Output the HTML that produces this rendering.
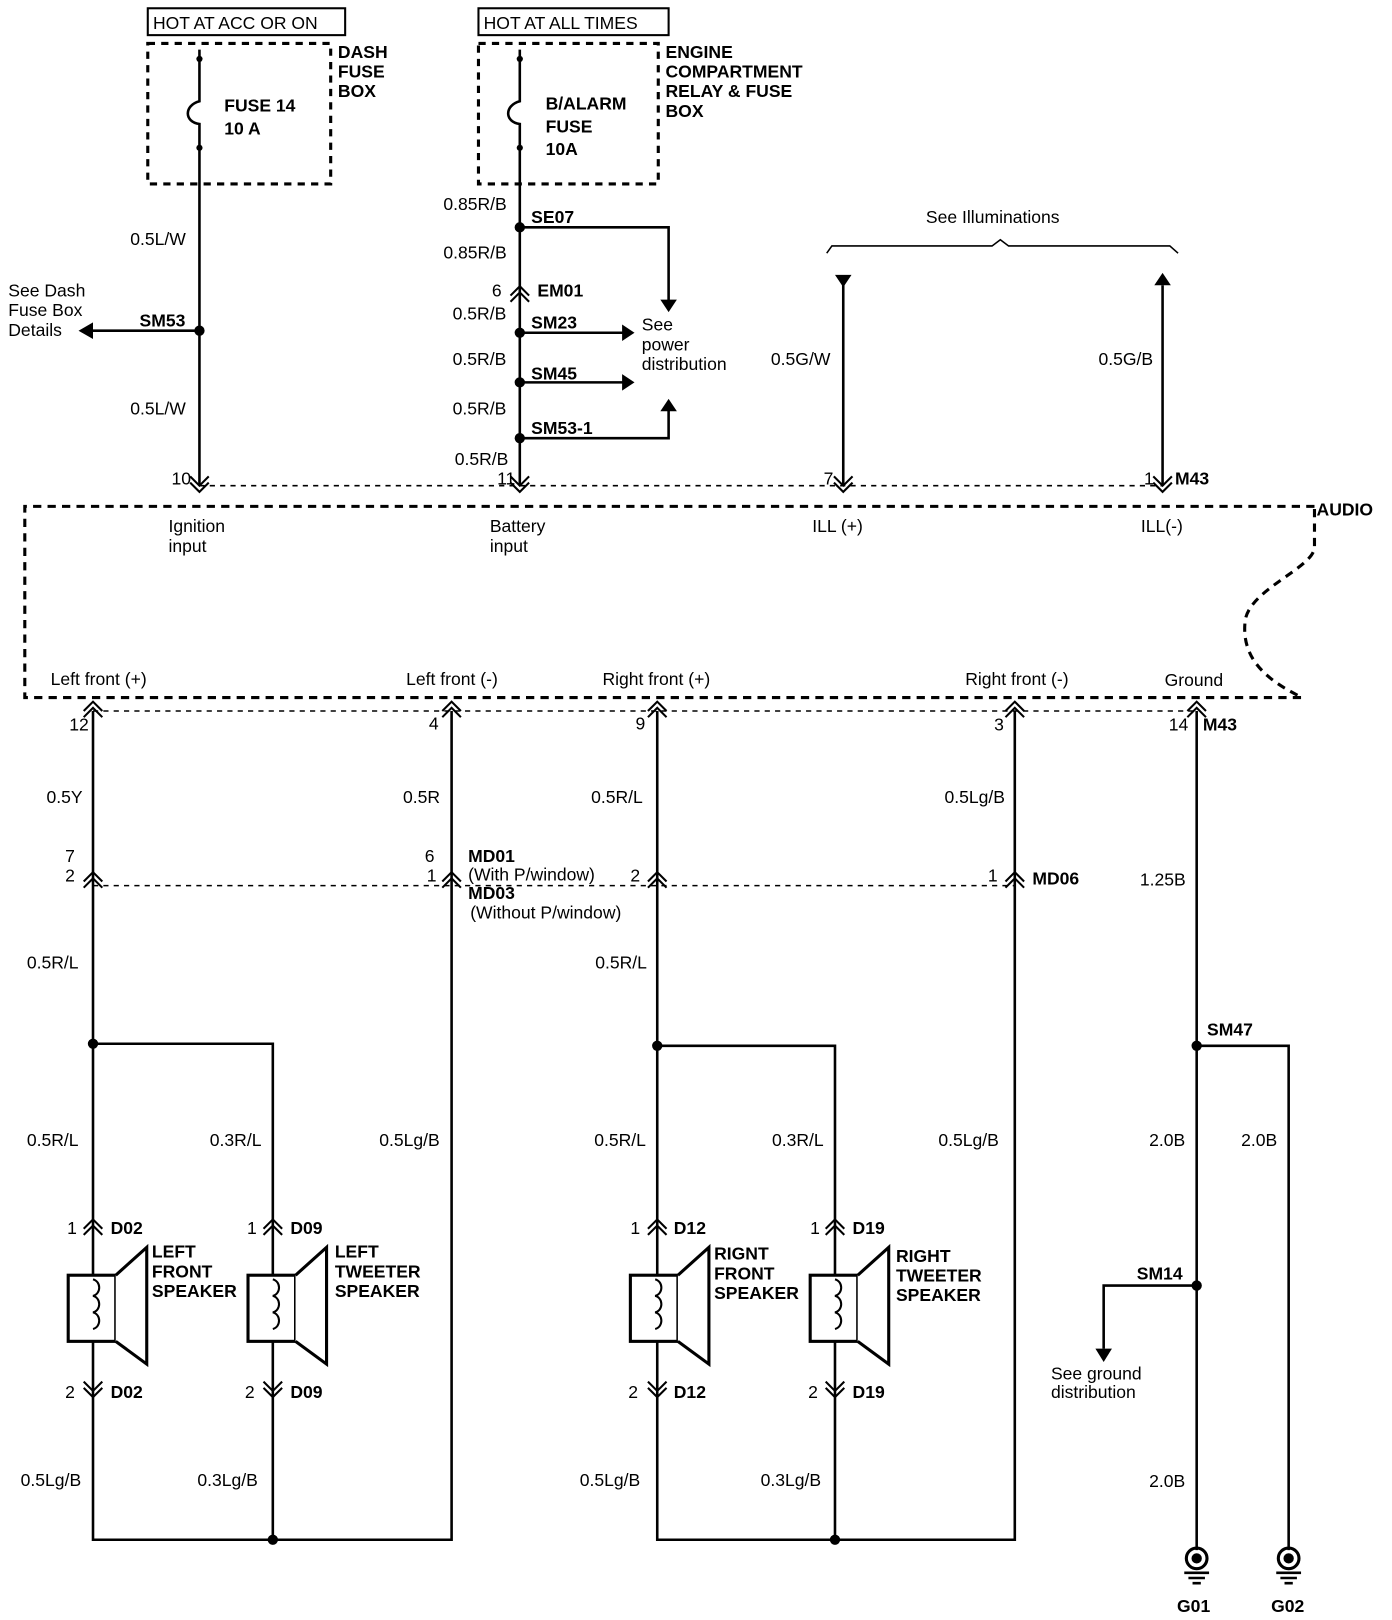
<!DOCTYPE html>
<html><head><meta charset="utf-8"><style>
html,body{margin:0;padding:0;background:#fff}
svg{display:block}
text{font-family:"Liberation Sans",Arial,sans-serif;font-size:17px;fill:#000}
.b{font-weight:bold}
</style></head><body>
<svg width="1392" height="1620" viewBox="0 0 1392 1620" xmlns="http://www.w3.org/2000/svg">
<defs>
<g id="up"><path d="M-9,5 L0,-4 L9,5 M-9,11 L0,2 L9,11" fill="none" stroke="#000" stroke-width="2"/></g>
<g id="dn"><path d="M-9,-5 L0,4 L9,-5 M-9,-11 L0,-2 L9,-11" fill="none" stroke="#000" stroke-width="2"/></g>
<g id="gnd"><circle cx="0" cy="0" r="10" fill="none" stroke="#000" stroke-width="3"/><circle cx="0" cy="0" r="5" fill="#000"/><path d="M-12,14 H12 M-8,19 H8 M-4,24 H4" stroke="#000" stroke-width="2.5"/></g>
</defs>
<g transform="scale(1.0334)">
<g stroke="#000" fill="none" stroke-width="2.5">
<rect x="143" y="8" width="191" height="26" stroke-width="2"/>
<rect x="463" y="8" width="184" height="26" stroke-width="2"/>
<rect x="143" y="42" width="177" height="136" stroke-dasharray="7,6" stroke-width="3"/>
<rect x="463" y="42" width="174" height="136" stroke-dasharray="7,6" stroke-width="3"/>
<path d="M193,48 V98 C178,102 178,118 193,120 V470"/>
<path d="M503,48 V98 C488,102 488,118 503,120 V470"/>
<path d="M193,320 H86"/>
<path d="M503,220 H647 V292"/>
<path d="M503,322 H604 M503,370 H604"/>
<path d="M503,424 H647 V396"/>
<path d="M800,245 L805,238 H960 L968,232 L976,238 H1132 L1140,245" stroke-width="1.5"/>
<path d="M816,272 V470 M1125,276 V470"/>
<path d="M193,470 H1125" stroke-width="1.5" stroke-dasharray="5,5"/>
<path d="M1272,490 H24 V675 H1260 C1230,660 1200,640 1205,600 C1210,570 1270,550 1272,530 V490" stroke-width="3" stroke-dasharray="8,6"/>
<path d="M90,688 V1490 H437 V688 M636,688 V1490 H982 V688"/>
<path d="M90,688 H1158" stroke-width="1.5" stroke-dasharray="5,5"/>
<path d="M90,857 H982" stroke-width="1.5" stroke-dasharray="5,5"/>
<path d="M1158,688 V1500 M1158,1012 H1247 V1500"/>
<path d="M90,1010 H264 V1490 M636,1012 H808 V1490"/>
<path d="M1158,1244 H1068 V1305"/>
</g>
<g fill="#000">
<circle cx="193" cy="57" r="3"/><circle cx="193" cy="143" r="3"/>
<circle cx="503" cy="57" r="3"/><circle cx="503" cy="143" r="3"/>
<circle cx="193" cy="320" r="5"/>
<circle cx="503" cy="220" r="5"/><circle cx="503" cy="322" r="5"/><circle cx="503" cy="370" r="5"/><circle cx="503" cy="424" r="5"/>
<circle cx="90" cy="1010" r="5"/><circle cx="636" cy="1012" r="5"/><circle cx="264" cy="1490" r="5"/><circle cx="808" cy="1490" r="5"/>
<circle cx="1158" cy="1012" r="5"/><circle cx="1158" cy="1244" r="5"/>
<path d="M76,320 L90,312 L90,328 Z"/>
<path d="M647,302 L639,290 L655,290 Z"/>
<path d="M614,322 L602,314 L602,330 Z M614,370 L602,362 L602,378 Z"/>
<path d="M647,386 L639,398 L655,398 Z"/>
<path d="M808,266 L824,266 L816,278 Z"/>
<path d="M1125,264 L1117,276 L1133,276 Z"/>
<path d="M1068,1318 L1060,1305 L1076,1305 Z"/>
</g>
<use href="#up" x="503" y="281"/>
<use href="#dn" x="193" y="472"/><use href="#dn" x="503" y="472"/><use href="#dn" x="816" y="472"/><use href="#dn" x="1125" y="472"/>
<use href="#up" x="90" y="683"/><use href="#up" x="437" y="683"/><use href="#up" x="636" y="683"/><use href="#up" x="982" y="683"/><use href="#up" x="1158" y="683"/>
<use href="#up" x="90" y="848"/><use href="#up" x="437" y="848"/><use href="#up" x="636" y="848"/><use href="#up" x="982" y="848"/>
<use href="#up" x="90" y="1184"/><use href="#up" x="264" y="1184"/><use href="#up" x="636" y="1184"/><use href="#up" x="808" y="1184"/>
<use href="#dn" x="90" y="1348"/><use href="#dn" x="264" y="1348"/><use href="#dn" x="636" y="1348"/><use href="#dn" x="808" y="1348"/>
<use href="#gnd" x="1158" y="1508"/><use href="#gnd" x="1247" y="1508"/>
<g stroke="#000" stroke-width="3" fill="#fff">
<rect x="66" y="1234" width="46" height="64"/><path d="M112,1234 L142,1207 V1320 L112,1298"/>
<rect x="240" y="1234" width="46" height="64"/><path d="M286,1234 L316,1207 V1320 L286,1298"/>
<rect x="610" y="1234" width="46" height="64"/><path d="M656,1234 L686,1207 V1320 L656,1298"/>
<rect x="784" y="1234" width="46" height="64"/><path d="M830,1234 L860,1207 V1320 L830,1298"/>
</g>
<g stroke="#000" stroke-width="2" fill="none">
<path d="M90,1238 c8,2 8,14 0,16 c8,2 8,14 0,16 c8,2 8,14 0,16"/>
<path d="M264,1238 c8,2 8,14 0,16 c8,2 8,14 0,16 c8,2 8,14 0,16"/>
<path d="M634,1238 c8,2 8,14 0,16 c8,2 8,14 0,16 c8,2 8,14 0,16"/>
<path d="M808,1238 c8,2 8,14 0,16 c8,2 8,14 0,16 c8,2 8,14 0,16"/>
</g>
<text x="148" y="28">HOT AT ACC OR ON</text>
<text x="468" y="28">HOT AT ALL TIMES</text>
<text class="b" x="217" y="108">FUSE 14</text><text class="b" x="217" y="130">10 A</text>
<text class="b" x="327" y="56">DASH</text><text class="b" x="327" y="75">FUSE</text><text class="b" x="327" y="94">BOX</text>
<text class="b" x="528" y="106">B/ALARM</text><text class="b" x="528" y="128">FUSE</text><text class="b" x="528" y="150">10A</text>
<text class="b" x="644" y="56">ENGINE</text><text class="b" x="644" y="75">COMPARTMENT</text><text class="b" x="644" y="94">RELAY &amp; FUSE</text><text class="b" x="644" y="113">BOX</text>
<text x="126" y="237">0.5L/W</text><text x="126" y="401">0.5L/W</text>
<text x="8" y="287">See Dash</text><text x="8" y="306">Fuse Box</text><text x="8" y="325">Details</text>
<text class="b" x="135" y="316">SM53</text>
<text x="429" y="203">0.85R/B</text><text class="b" x="514" y="216">SE07</text>
<text x="429" y="250">0.85R/B</text>
<text x="476" y="287">6</text><text class="b" x="520" y="287">EM01</text>
<text x="438" y="309">0.5R/B</text><text class="b" x="514" y="318">SM23</text>
<text x="621" y="320">See</text><text x="621" y="339">power</text><text x="621" y="358">distribution</text>
<text x="438" y="353">0.5R/B</text><text class="b" x="514" y="367">SM45</text>
<text x="438" y="401">0.5R/B</text><text class="b" x="514" y="420">SM53-1</text>
<text x="440" y="450">0.5R/B</text>
<text x="896" y="216">See Illuminations</text>
<text x="746" y="353">0.5G/W</text><text x="1063" y="353">0.5G/B</text>
<text x="166" y="469">10</text><text x="481" y="469">11</text><text x="797" y="469">7</text><text x="1107" y="469">1</text><text class="b" x="1137" y="469">M43</text>
<text class="b" x="1274" y="499">AUDIO</text>
<text x="163" y="515">Ignition</text><text x="163" y="534">input</text>
<text x="474" y="515">Battery</text><text x="474" y="534">input</text>
<text x="786" y="515">ILL (+)</text><text x="1104" y="515">ILL(-)</text>
<text x="49" y="663">Left front (+)</text><text x="393" y="663">Left front (-)</text><text x="583" y="663">Right front (+)</text><text x="934" y="663">Right front (-)</text><text x="1127" y="664">Ground</text>
<text x="67" y="707">12</text><text x="415" y="706">4</text><text x="615" y="706">9</text><text x="962" y="707">3</text><text x="1131" y="707">14</text><text class="b" x="1164" y="707">M43</text>
<text x="45" y="777">0.5Y</text><text x="390" y="777">0.5R</text><text x="572" y="777">0.5R/L</text><text x="914" y="777">0.5Lg/B</text>
<text x="63" y="834">7</text><text x="63" y="853">2</text><text x="411" y="834">6</text><text x="413" y="853">1</text><text x="610" y="853">2</text><text x="956" y="853">1</text>
<text class="b" x="453" y="834">MD01</text><text x="453" y="852">(With P/window)</text><text class="b" x="453" y="870">MD03</text><text x="455" y="889">(Without P/window)</text>
<text class="b" x="999" y="856">MD06</text><text x="1103" y="857">1.25B</text>
<text x="26" y="937">0.5R/L</text><text x="576" y="937">0.5R/L</text>
<text class="b" x="1168" y="1002">SM47</text>
<text x="26" y="1109">0.5R/L</text><text x="203" y="1109">0.3R/L</text><text x="367" y="1109">0.5Lg/B</text>
<text x="575" y="1109">0.5R/L</text><text x="747" y="1109">0.3R/L</text><text x="908" y="1109">0.5Lg/B</text>
<text x="1112" y="1109">2.0B</text><text x="1201" y="1109">2.0B</text>
<text x="65" y="1194">1</text><text class="b" x="107" y="1194">D02</text>
<text x="239" y="1194">1</text><text class="b" x="281" y="1194">D09</text>
<text x="610" y="1194">1</text><text class="b" x="652" y="1194">D12</text>
<text x="784" y="1194">1</text><text class="b" x="825" y="1194">D19</text>
<text class="b" x="147" y="1217">LEFT</text><text class="b" x="147" y="1236">FRONT</text><text class="b" x="147" y="1255">SPEAKER</text>
<text class="b" x="324" y="1217">LEFT</text><text class="b" x="324" y="1236">TWEETER</text><text class="b" x="324" y="1255">SPEAKER</text>
<text class="b" x="691" y="1219">RIGNT</text><text class="b" x="691" y="1238">FRONT</text><text class="b" x="691" y="1257">SPEAKER</text>
<text class="b" x="867" y="1221">RIGHT</text><text class="b" x="867" y="1240">TWEETER</text><text class="b" x="867" y="1259">SPEAKER</text>
<text class="b" x="1100" y="1238">SM14</text>
<text x="1017" y="1335">See ground</text><text x="1017" y="1353">distribution</text>
<text x="63" y="1353">2</text><text class="b" x="107" y="1353">D02</text>
<text x="237" y="1353">2</text><text class="b" x="281" y="1353">D09</text>
<text x="608" y="1353">2</text><text class="b" x="652" y="1353">D12</text>
<text x="782" y="1353">2</text><text class="b" x="825" y="1353">D19</text>
<text x="20" y="1438">0.5Lg/B</text><text x="191" y="1438">0.3Lg/B</text><text x="561" y="1438">0.5Lg/B</text><text x="736" y="1438">0.3Lg/B</text><text x="1112" y="1439">2.0B</text>
<text class="b" x="1139" y="1560">G01</text><text class="b" x="1230" y="1560">G02</text>
</g>
</svg>
</body></html>
